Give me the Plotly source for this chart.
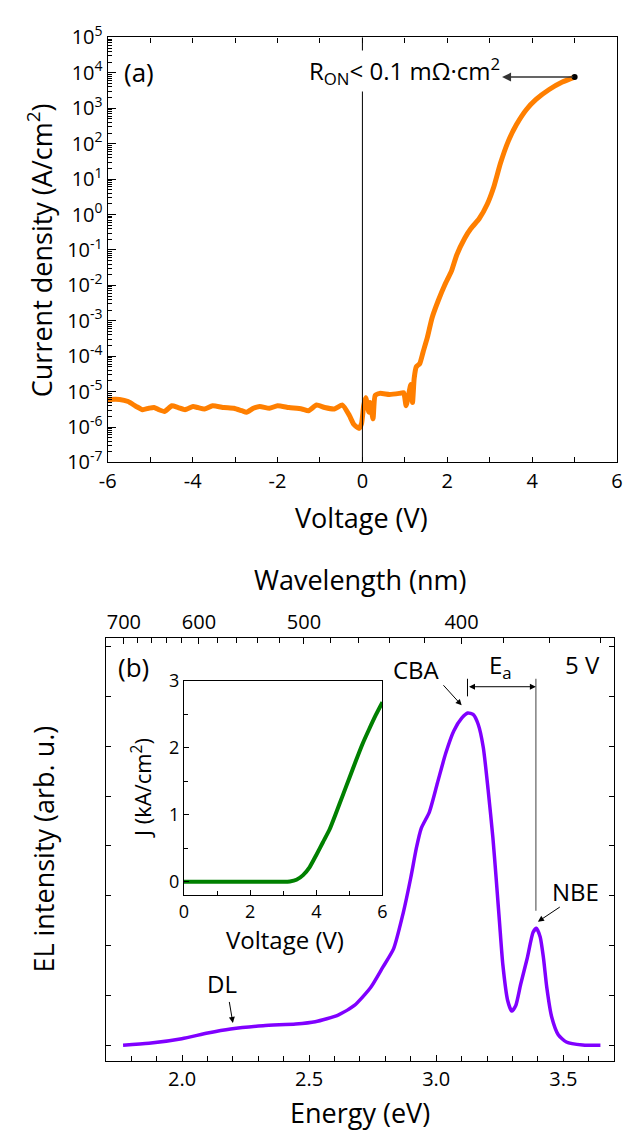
import plotly.graph_objects as go

# ---------------- Panel (a): J-V, log scale ----------------
iv_voltage = [-6.0, -5.72, -5.52, -5.33, -5.18, -5.03, -4.91, -4.80, -4.66, -4.49, -4.34, -4.18,
              -3.99, -3.88, -3.72, -3.53, -3.26, -3.03, -2.84, -2.73, -2.57, -2.42, -2.19, -2.0,
              -1.73, -1.43, -1.27, -1.08, -0.89, -0.66, -0.47, -0.31, -0.20, -0.08, -0.02, 0.03,
              0.08, 0.15, 0.18, 0.25, 0.30, 0.41, 0.64, 0.87, 0.97, 1.03, 1.09, 1.14, 1.18, 1.22,
              1.27, 1.35, 1.43, 1.53, 1.64, 1.79, 1.95, 2.10, 2.22, 2.41, 2.56, 2.75, 2.94, 3.10,
              3.25, 3.44, 3.63, 3.86, 4.09, 4.40, 4.71, 5.0]
# log10 of current density (A/cm^2)
iv_log_j = [-5.22, -5.22, -5.28, -5.42, -5.51, -5.47, -5.45, -5.51, -5.56, -5.40, -5.45, -5.51,
            -5.42, -5.45, -5.49, -5.40, -5.45, -5.47, -5.54, -5.58, -5.47, -5.42, -5.47, -5.40,
            -5.45, -5.49, -5.54, -5.38, -5.45, -5.49, -5.38, -5.67, -5.93, -6.04, -5.90, -5.40,
            -5.17, -5.58, -5.31, -5.77, -5.11, -5.05, -5.08, -5.05, -5.03, -5.40, -5.08, -4.80,
            -5.31, -4.62, -4.30, -4.21, -3.88, -3.47, -2.92, -2.42, -1.96, -1.59, -1.15, -0.67,
            -0.39, -0.12, 0.29, 0.80, 1.44, 2.08, 2.54, 2.96, 3.25, 3.53, 3.74, 3.88]
iv_current = [10 ** v for v in iv_log_j]
ron_point_v = [5.0]
ron_point_j = [7.6e3]

a_x_ticks = [-6, -4, -2, 0, 2, 4, 6]
a_x_ticktext = ["-6", "-4", "-2", "0", "2", "4", "6"]
a_y_exponents = list(range(-7, 6))

# ---------------- Panel (b): EL spectrum ----------------
el_energy = [1.768, 1.87, 1.999, 2.101, 2.191, 2.319, 2.447, 2.524, 2.614, 2.678, 2.742, 2.79,
             2.832, 2.87, 2.90, 2.922, 2.941, 2.973, 3.005, 3.037, 3.069, 3.101, 3.124, 3.146,
             3.165, 3.185, 3.204, 3.223, 3.236, 3.249, 3.262, 3.281, 3.297, 3.313, 3.332, 3.358,
             3.381, 3.394, 3.409, 3.422, 3.435, 3.454, 3.48, 3.512, 3.576, 3.646]
el_intensity = [0.0, 0.006, 0.02, 0.037, 0.049, 0.059, 0.064, 0.071, 0.091, 0.120, 0.174, 0.235,
                0.29, 0.398, 0.505, 0.594, 0.653, 0.702, 0.79, 0.878, 0.946, 0.985, 1.0, 0.995,
                0.966, 0.897, 0.77, 0.624, 0.50, 0.37, 0.243, 0.135, 0.103, 0.12, 0.183, 0.262,
                0.34, 0.352, 0.326, 0.262, 0.174, 0.086, 0.032, 0.01, 0.001, 0.0]

b_x_ticks = [2.0, 2.5, 3.0, 3.5]
b_x_ticktext = ["2.0", "2.5", "3.0", "3.5"]
b_x_minor = [1.8, 1.9, 2.1, 2.2, 2.3, 2.4, 2.6, 2.7, 2.8, 2.9, 3.1, 3.2, 3.3, 3.4, 3.6]
wl_major = [700, 600, 500, 400]
wl_minor = [680, 660, 640, 620, 580, 560, 540, 520, 480, 460, 440, 420, 380, 360, 340]
HC = 1239.84

# Inset: J-V linear
inset_v = [0.0, 1.0, 2.0, 3.0, 3.2, 3.4, 3.6, 3.8, 4.0, 4.2, 4.4, 4.6, 4.8, 5.0, 5.2, 5.4, 5.6, 5.8, 6.0]
inset_j = [0.0, 0.0, 0.0, 0.0, 0.005, 0.03, 0.1, 0.22, 0.40, 0.59, 0.78, 1.03, 1.29, 1.55, 1.81,
           2.06, 2.28, 2.49, 2.68]

W, H = 626, 1148
FONT = "Open Sans"


def px(x):
    return x / W


def py(y):
    return 1 - y / H


fig = go.Figure()
fig.add_trace(go.Scatter(x=iv_voltage, y=iv_current, mode="lines",
                         line=dict(color="#FF7F00", width=5, shape="spline", smoothing=0.5),
                         xaxis="x", yaxis="y", showlegend=False))
fig.add_trace(go.Scatter(x=ron_point_v, y=ron_point_j, mode="markers",
                         marker=dict(color="black", size=6), xaxis="x", yaxis="y",
                         showlegend=False))
fig.add_trace(go.Scatter(x=el_energy, y=el_intensity, mode="lines",
                         line=dict(color="#8000FF", width=3.5, shape="spline", smoothing=0.6),
                         xaxis="x2", yaxis="y2", showlegend=False))
fig.add_trace(go.Scatter(x=[1.7, 3.7], y=[0, 0], mode="lines", line=dict(width=0),
                         opacity=0, xaxis="x3", yaxis="y2", showlegend=False, hoverinfo="skip"))
fig.add_trace(go.Scatter(x=inset_v, y=inset_j, mode="lines",
                         line=dict(color="#008000", width=4, shape="spline", smoothing=0.5),
                         xaxis="x4", yaxis="y4", showlegend=False))

ax_common = dict(showline=True, linecolor="black", linewidth=1.3, showgrid=False,
                 zeroline=False, ticks="inside", tickcolor="black", tickwidth=1.2,
                 tickfont=dict(family=FONT, size=20, color="black"))
inset_font = dict(family=FONT, size=18, color="black")

fig.update_layout(
    width=W, height=H, margin=dict(l=0, r=0, t=0, b=0),
    paper_bgcolor="white", plot_bgcolor="white",
    font=dict(family=FONT, color="black"),
    xaxis=dict(domain=[px(101), px(622)], anchor="y", range=[-6, 6],
               tickmode="array", tickvals=a_x_ticks, ticktext=a_x_ticktext, ticklen=5,
               mirror="allticks",
               minor=dict(tickmode="array", tickvals=[-5, -3, -1, 1, 3, 5], ticks="inside",
                          ticklen=5, tickcolor="black", tickwidth=1.2),
               **ax_common),
    yaxis=dict(domain=[py(458), py(22)], anchor="x", type="log", range=[-7, 5],
               tickmode="array", tickvals=[10 ** k for k in a_y_exponents],
               ticktext=["10<sup>%d</sup>" % k for k in a_y_exponents], ticklen=8,
               mirror=True,
               minor=dict(tickmode="array",
                          tickvals=[m * 10 ** k for k in range(-7, 5) for m in range(2, 10)],
                          ticks="inside", ticklen=4, tickcolor="black", tickwidth=1),
               **ax_common),
    xaxis2=dict(domain=[px(99), px(619)], anchor="y2", range=[1.7, 3.7],
                tickmode="array", tickvals=b_x_ticks, ticktext=b_x_ticktext, ticklen=6,
                minor=dict(tickmode="array", tickvals=b_x_minor, ticks="inside", ticklen=5,
                           tickcolor="black", tickwidth=1),
                **ax_common),
    xaxis3=dict(overlaying="x2", side="top", anchor="y2", range=[1.7, 3.7],
                tickmode="array", tickvals=[HC / w for w in wl_major],
                ticktext=[str(w) for w in wl_major], ticklen=6,
                minor=dict(tickmode="array", tickvals=[HC / w for w in wl_minor], ticks="inside",
                           ticklen=5, tickcolor="black", tickwidth=1),
                **ax_common),
    yaxis2=dict(domain=[py(1072), py(638)], anchor="x2", range=[-0.047, 1.226],
                showticklabels=False, tickmode="linear", tick0=0, dtick=0.15, ticklen=5,
                mirror="ticks", **ax_common),
    xaxis4=dict(domain=[px(179), px(382)], anchor="y4", range=[0, 6],
                tickmode="array", tickvals=[0, 2, 4, 6], ticklen=5, mirror=True,
                minor=dict(tickmode="array", tickvals=[1, 3, 5], ticks="inside", ticklen=4,
                           tickcolor="black", tickwidth=1),
                **{**ax_common, "tickfont": inset_font}),
    yaxis4=dict(domain=[py(902), py(682)], anchor="x4", range=[-0.2, 3.0],
                tickmode="array", tickvals=[0, 1, 2, 3], ticklen=5, mirror=True,
                minor=dict(tickmode="array", tickvals=[0.5, 1.5, 2.5], ticks="inside",
                           ticklen=4, tickcolor="black", tickwidth=1),
                **{**ax_common, "tickfont": inset_font}),
)

fig.add_shape(type="line", xref="x", yref="y domain", x0=0, x1=0, y0=0, y1=1,
              line=dict(color="black", width=1))
fig.add_shape(type="line", xref="x2", yref="y2", x0=3.392, x1=3.392, y0=0.405, y1=1.103,
              line=dict(color="#808080", width=1.5))
fig.add_shape(type="line", xref="x2", yref="y2", x0=3.123, x1=3.123, y0=1.05, y1=1.103,
              line=dict(color="black", width=1))


def txt(text, x, y, size, xref="x", yref="y", angle=0, **kw):
    fig.add_annotation(text=text, x=x, y=y, xref=xref, yref=yref, showarrow=False,
                       textangle=angle, font=dict(family=FONT, size=size, color="black"),
                       xanchor="center", yanchor="middle", **kw)


def arrow(x, y, ax, ay, xref, yref, side="end", width=1.0, color="black"):
    fig.add_annotation(text="", x=x, y=y, ax=ax, ay=ay, xref=xref, yref=yref,
                       axref=xref, ayref=yref, showarrow=True, arrowhead=2, arrowsize=1.2,
                       arrowwidth=width, arrowcolor=color, arrowside=side,
                       standoff=0, startstandoff=0)


# Panel (a) annotations
txt("(a)", -5.26, 4.02, 26)
txt("R<sub>ON</sub>< 0.1 mΩ·cm<sup>2</sup>", 1.0, 4.05, 24, bgcolor="white")
arrow(3.29, 3.88, 5.0, 3.88, "x", "y", width=1.5, color="#333333")

# Panel (b) annotations
txt("(b)", 1.808, 1.138, 26, xref="x2", yref="y2")
txt("CBA", 2.923, 1.132, 24, xref="x2", yref="y2")
arrow(3.10, 1.023, 3.023, 1.088, "x2", "y2")
txt("E<sub>a</sub>", 3.254, 1.14, 24, xref="x2", yref="y2")
arrow(3.392, 1.079, 3.123, 1.079, "x2", "y2", side="end+start")
txt("5 V", 3.577, 1.147, 24, xref="x2", yref="y2")
txt("NBE", 3.546, 0.463, 24, xref="x2", yref="y2")
arrow(3.40, 0.372, 3.492, 0.419, "x2", "y2")
txt("DL", 2.158, 0.185, 24, xref="x2", yref="y2")
arrow(2.20, 0.067, 2.185, 0.135, "x2", "y2")

# Axis titles
txt("Voltage (V)", px(361), py(515), 27, xref="paper", yref="paper")
txt("Current density (A/cm<sup>2</sup>)", px(32), py(240), 27, xref="paper", yref="paper", angle=-90)
txt("Wavelength (nm)", px(359), py(578), 27, xref="paper", yref="paper")
txt("Energy (eV)", px(359), py(1125), 27, xref="paper", yref="paper")
txt("EL intensity (arb. u.)", px(35), py(855), 27, xref="paper", yref="paper", angle=-90)
txt("Voltage (V)", px(282), py(947), 24, xref="paper", yref="paper")
txt("J (kA/cm<sup>2</sup>)", px(136), py(792), 22, xref="paper", yref="paper", angle=-90)

fig.write_html("out.html", config={"displayModeBar": False},
               post_script="document.body.style.margin='0';document.body.style.overflow='hidden';")
